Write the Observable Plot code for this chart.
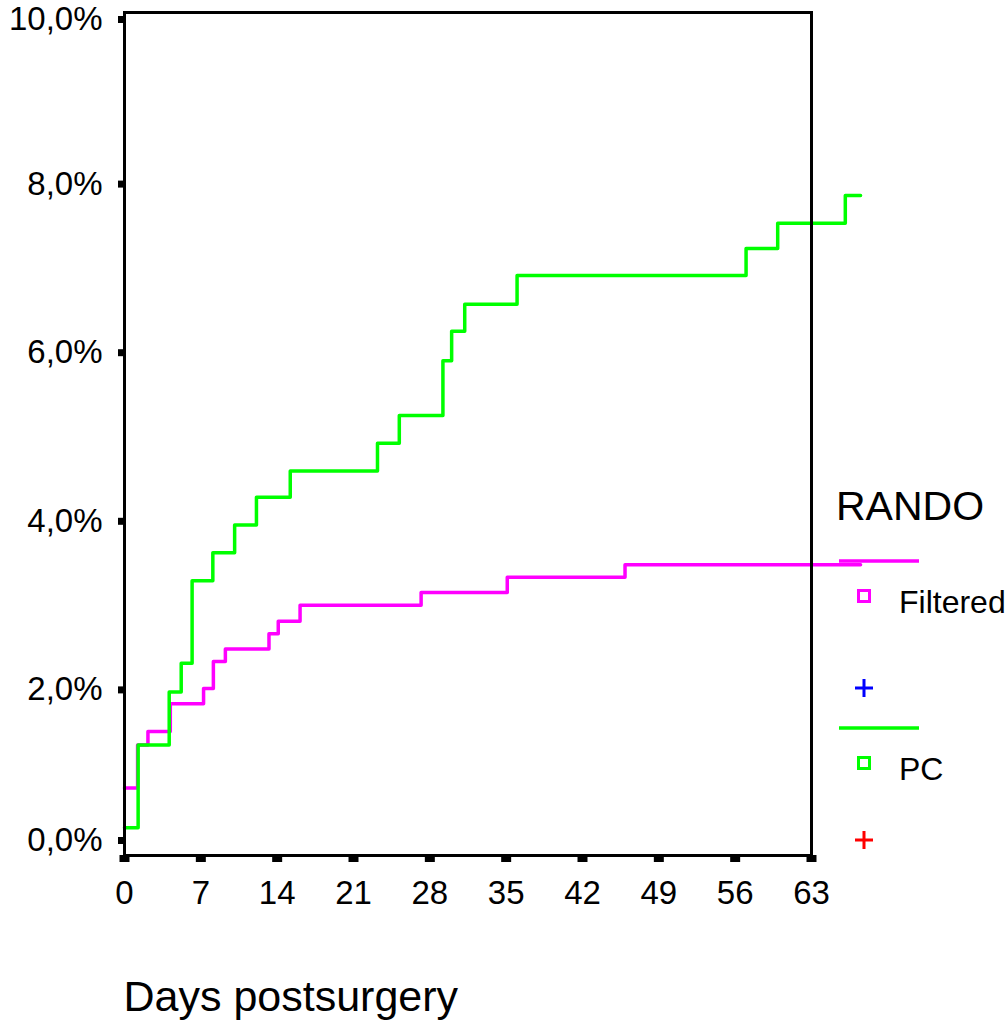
<!DOCTYPE html>
<html><head><meta charset="utf-8">
<script src="https://cdn.jsdelivr.net/npm/d3@7"></script>
<script src="https://cdn.jsdelivr.net/npm/@observablehq/plot@0.6"></script>
<style>body{margin:0;background:#fff}</style>
</head><body><div id="chart"></div>
<script>
const seriesNames = ["Filtered", "PC"];
const seriesColors = ["#ff00ff", "#00ff00"];
const censorColors = ["#0000ff", "#ff0000"];
const filteredDays = [0, 1.2, 2.15, 4.2, 7.25, 8.15, 9.25, 13.25, 14.1, 16.1, 27.2, 35.1, 45.9, 67.5];
const filteredPct  = [0.80, 1.31, 1.47, 1.80, 1.98, 2.30, 2.45, 2.63, 2.78, 2.97, 3.12, 3.30, 3.45, 3.45];
const pcDays = [0, 1.25, 4.1, 5.2, 6.2, 8.1, 10.1, 12.1, 15.2, 23.2, 25.2, 29.2, 30.0, 31.2, 36.0, 57.0, 59.9, 66.1, 67.5];
const pcPct  = [0.33, 1.31, 1.94, 2.28, 3.26, 3.59, 3.92, 4.25, 4.56, 4.89, 5.22, 5.87, 6.22, 6.54, 6.88, 7.20, 7.50, 7.83, 7.83];
const xTicks = [0, 7, 14, 21, 28, 35, 42, 49, 56, 63];
const yTicks = [0, 2, 4, 6, 8, 10];
const xLabel = "Days postsurgery";
const legendTitle = "RANDO";

const rows = [
  ...filteredDays.map((d, i) => ({day: d, pct: filteredPct[i], series: seriesNames[0]})),
  ...pcDays.map((d, i) => ({day: d, pct: pcPct[i], series: seriesNames[1]}))
];
const fmt = d => d.toFixed(1).replace(".", ",") + "%";
const font = "Liberation Sans, Arial, sans-serif";
const yAxisOpts = {tickSize: 6, strokeWidth: 7, tickPadding: 16, fontSize: 33, tickFormat: fmt, stroke: "black", label: null};

const chart = Plot.plot({
  width: 1007,
  height: 1020,
  marginLeft: 124,
  marginRight: 196,
  marginTop: 12,
  marginBottom: 165,
  style: {fontFamily: font, background: "white", color: "black"},
  x: {domain: [0, 63]},
  y: {domain: [0, 10]},
  color: {domain: seriesNames, range: seriesColors},
  marks: [
    Plot.axisY({...yAxisOpts, ticks: yTicks.filter(t => t === 10), dy: 7}),
    Plot.axisY({...yAxisOpts, ticks: yTicks.filter(t => t > 0 && t < 10), dy: 3}),
    Plot.axisY({...yAxisOpts, ticks: yTicks.filter(t => t === 0), dy: -15}),
    Plot.axisX({ticks: xTicks, tickSize: 7, strokeWidth: 10, tickPadding: 18, fontSize: 33, stroke: "black", label: null}),
    Plot.text([xLabel], {frameAnchor: "bottom-left", dy: 142, dx: -1, fontSize: 43, textAnchor: "start", lineAnchor: "middle", fill: "black"}),
    Plot.line(rows, {x: "day", y: "pct", z: "series", stroke: "series", curve: "step-after", strokeWidth: 3.5}),
    Plot.frame({stroke: "black", strokeWidth: 3})
  ]
});
document.getElementById("chart").appendChild(chart);

// Legend (SPSS style) at right of the plot area
const svg = d3.select(chart);
const lg = svg.append("g").attr("font-family", font).attr("text-anchor", "start");
lg.append("text").attr("x", 836).attr("y", 509).attr("dominant-baseline", "middle")
  .attr("text-anchor", "start").attr("font-size", 41).attr("fill", "black").text(legendTitle);
const entryY = [561, 728];
seriesNames.forEach((name, i) => {
  const y0 = entryY[i];
  lg.append("line").attr("x1", 839).attr("x2", 919).attr("y1", y0).attr("y2", y0)
    .attr("stroke", seriesColors[i]).attr("stroke-width", 3.5);
  lg.append("rect").attr("x", 858.5).attr("y", y0 + 29.5).attr("width", 11).attr("height", 11)
    .attr("fill", "none").attr("stroke", seriesColors[i]).attr("stroke-width", 3);
  lg.append("text").attr("x", 899).attr("y", y0 + 44).attr("dominant-baseline", "middle")
    .attr("text-anchor", "start").attr("font-size", 32).attr("fill", "black").text(name);
  const py = y0 + 127 + (i === 1 ? -15 : 0);
  lg.append("path").attr("d", `M${855},${py}h18M${864},${py - 9}v18`)
    .attr("stroke", censorColors[i]).attr("stroke-width", 3).attr("fill", "none");
});
</script>
</body></html>
